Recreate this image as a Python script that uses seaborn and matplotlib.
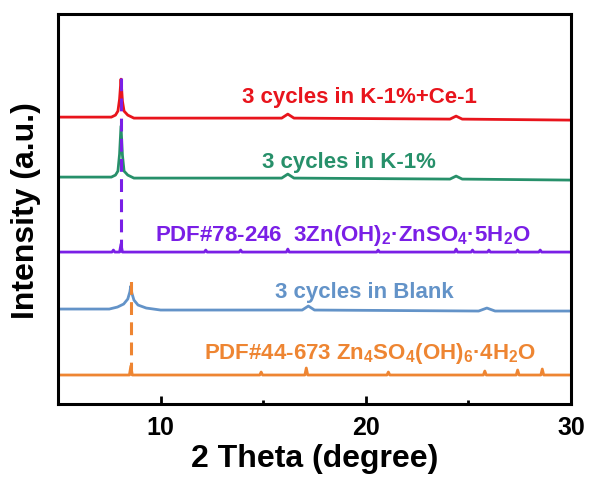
import numpy as np
import matplotlib
matplotlib.use("Agg")
import matplotlib.pyplot as plt
import seaborn as sns

### DATA (2 Theta in degree, intensity in a.u. with stacking offsets)

red_x = [5, 7.6, 7.8, 7.92, 8.0, 8.07, 8.14, 8.22, 8.4, 8.7, 15.9, 16.2, 16.5, 24.1, 24.4, 24.7, 30]
red_y = [287, 287, 289, 293, 305, 325, 303, 293, 289, 286, 286, 290, 286, 285, 288, 285, 284]

green_x = [5, 7.6, 7.8, 7.92, 8.0, 8.07, 8.14, 8.22, 8.4, 8.7, 15.9, 16.2, 16.5, 24.1, 24.4, 24.7, 30]
green_y = [227, 227, 229, 233, 250, 278, 249, 233, 229, 226, 226, 230, 226, 225, 228, 225, 224]

blue_x = [5, 7.5, 7.9, 8.2, 8.4, 8.5, 8.55, 8.6, 8.7, 8.9, 9.3, 10, 16.9, 17.2, 17.5, 25.5, 25.9, 26.3, 30]
blue_y = [95, 95, 97, 100, 105, 112, 118, 111, 104, 99, 96, 94, 94, 98, 94, 93, 96, 93, 93]

# reference cards (stick patterns)
pdf78_base = 152
pdf78_pos = [7.7, 8.07, 12.2, 13.9, 16.2, 20.6, 24.4, 25.2, 26.0, 27.4, 28.5]
pdf78_h = [2, 8, 2, 2, 3, 2, 3, 2, 2, 2, 2]

pdf44_base = 29
pdf44_pos = [8.55, 14.9, 17.1, 21.1, 25.8, 27.4, 28.6]
pdf44_h = [9, 3, 7, 3, 4, 5, 6]

# dashed guide lines: (x, ymin, ymax)
guide_purple = (8.07, 152, 326)
guide_orange = (8.55, 29, 128)

labels = ["3 cycles in K-1%+Ce-1",
          "3 cycles in K-1%",
          r"PDF#78-246  3Zn(OH)$_2$·ZnSO$_4$·5H$_2$O",
          "3 cycles in Blank",
          r"PDF#44-673 Zn$_4$SO$_4$(OH)$_6$·4H$_2$O"]
label_x = [19.7, 19.2, 18.9, 19.95, 20.2]
label_y = [308, 243, 170, 113, 52]

c_red = "#E8141C"
c_green = "#27906A"
c_purple = "#7A1FE6"
c_blue = "#6393C8"
c_orange = "#EE8532"
colors = [c_red, c_green, c_purple, c_blue, c_orange]


def sticks(base, pos, h, lo=5, hi=30, w=0.07):
    xs, ys = [lo], [base]
    for p, hh in zip(pos, h):
        xs += [p - w, p, p + w]
        ys += [base, base + hh, base]
    xs.append(hi)
    ys.append(base)
    return xs, ys


### PLOT

sns.set_theme(style="ticks")
plt.rcParams["font.family"] = ["Liberation Sans", "DejaVu Sans"]
plt.rcParams["font.weight"] = "bold"
plt.rcParams["text.color"] = "black"
plt.rcParams["axes.labelcolor"] = "black"
plt.rcParams["xtick.color"] = "black"
plt.rcParams["mathtext.fontset"] = "custom"
plt.rcParams["mathtext.rm"] = "Liberation Sans:bold"
plt.rcParams["mathtext.bf"] = "Liberation Sans:bold"
plt.rcParams["mathtext.default"] = "bf"

fig = plt.figure(figsize=(5.9, 4.81), dpi=100)
ax = fig.add_axes([0.0983, 0.158, 0.8695, 0.8105])

lw = 2.0
sns.lineplot(x=red_x, y=red_y, color=c_red, lw=lw, ax=ax, sort=False)
sns.lineplot(x=green_x, y=green_y, color=c_green, lw=lw, ax=ax, sort=False)
px, py = sticks(pdf78_base, pdf78_pos, pdf78_h)
sns.lineplot(x=px, y=py, color=c_purple, lw=lw, ax=ax, sort=False)
sns.lineplot(x=blue_x, y=blue_y, color=c_blue, lw=lw, ax=ax, sort=False)
ox, oy = sticks(pdf44_base, pdf44_pos, pdf44_h)
sns.lineplot(x=ox, y=oy, color=c_orange, lw=lw, ax=ax, sort=False)

for (gx, y0, y1), c in [(guide_purple, c_purple), (guide_orange, c_orange)]:
    ax.vlines(gx, y0, y1, colors=c, linestyles=(0, (4.2, 2.4)), lw=2.2, zorder=5)

for t, x, y, c in zip(labels, label_x, label_y, colors):
    ax.text(x, y, t, color=c, fontsize=16, fontweight="bold", ha="center", va="center")

ax.set_xlim(5, 30)
ax.set_ylim(0, 390)
ax.set_xticks([10, 20, 30])
ax.set_xticks([15, 25], minor=True)
ax.set_yticks([])
ax.tick_params(axis="x", which="major", direction="in", length=6, width=2,
               labelsize=18, pad=8, top=False, colors="black")
ax.tick_params(axis="x", which="minor", direction="in", length=3, width=2, top=False)
for lab in ax.get_xticklabels():
    lab.set_fontweight("bold")
for s in ax.spines.values():
    s.set_linewidth(2.2)
    s.set_color("black")

ax.set_xlabel("2 Theta (degree)", fontsize=23, fontweight="bold", labelpad=3, color="black")
ax.set_ylabel("Intensity (a.u.)", fontsize=23, fontweight="bold", labelpad=12, color="black")

fig.savefig("out.png", dpi=100, facecolor="white")
